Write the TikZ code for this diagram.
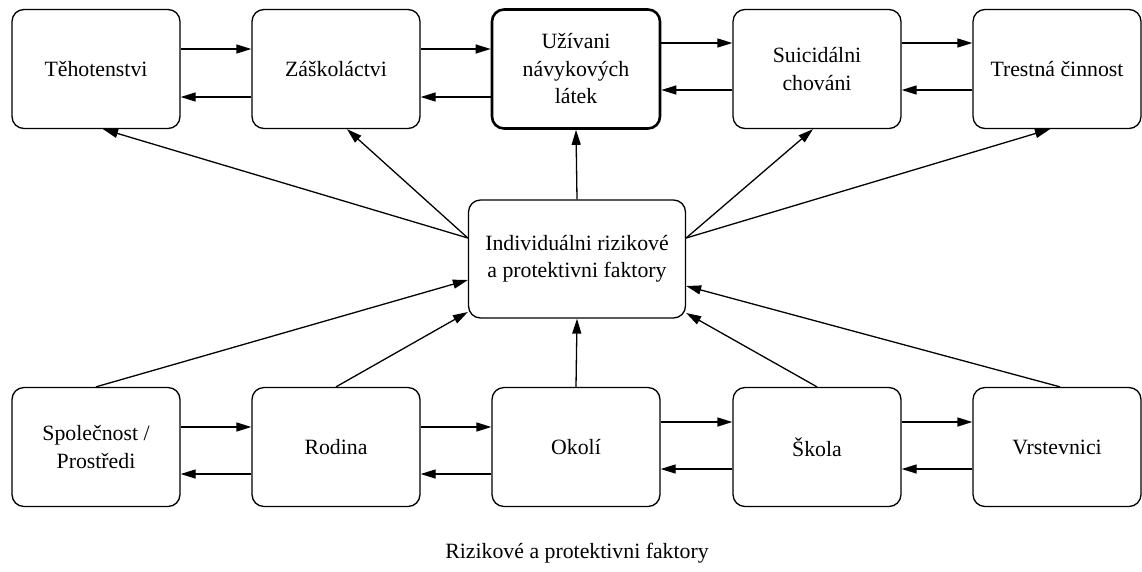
\documentclass[tikz,border=0pt]{standalone}
\usepackage{fontspec}
\setmainfont{Liberation Serif}
\usetikzlibrary{arrows.meta}
\tikzset{>={Triangle[length=15pt,width=9pt]}}
\tikzset{
  factor/.style = {
    draw, line width=1.3pt, rounded corners=12pt,
    minimum width=168pt, minimum height=119pt,
    align=center, inner sep=2pt,
    font=\fontsize{21.8}{27.5}\selectfont
  }
}

\begin{document}
\begin{tikzpicture}[x=1pt,y=-1pt,line width=1.3pt]
  \useasboundingbox (0,0) rectangle (1142,571);
  % top row
  \node (teh) at (96,69)   [factor] {Těhotenstvi};
  \node (zas) at (336,69)  [factor] {Záškoláctvi};
  \node (uzi) at (576,69)  [factor, line width=2.6pt] {Užívani\\návykových\\látek};
  \node (sui) at (817,69)  [factor] {Suicidálni\\chováni};
  \node (tre) at (1057,69) [factor] {Trestná činnost};
  % middle
  \node (ind) at (577,259) [factor, minimum width=217pt, minimum height=118pt] {Individuálni rizikové\\a protektivni faktory};
  % bottom row
  \node (spo) at (96,447)  [factor] {Společnost /\\Prostředi};
  \node (rod) at (336,447) [factor] {Rodina};
  \node (oko) at (576,447) [factor] {Okolí};
  \node (sko) at (817,447) [factor] {Škola};
  \node (vrs) at (1057,447) [factor] {Vrstevnici};
  \node (cap) at (577,553) [font=\fontsize{21.8}{27.5}\selectfont] {Rizikové a protektivni faktory};
  % arrows between neighbours
  \foreach \a/\b/\u/\d in {teh/zas/20/28, zas/uzi/20/28, uzi/sui/26/21, sui/tre/26/21,
                           spo/rod/20/27, rod/oko/20/27, oko/sko/25/22, sko/vrs/25/22} {%
    \draw[->] ([yshift=\u pt]\a.east) -- ([yshift=\u pt]\b.west);
    \draw[->] ([yshift=-\d pt]\b.west) -- ([yshift=-\d pt]\a.east);
  }
  % to the outcomes
  \draw[->] ([yshift=21pt]ind.west) -- ([xshift=7pt]teh.south);
  \draw[->] ([yshift=21pt]ind.west) -- ([xshift=11pt]zas.south);
  \draw[->] (ind.north) -- (uzi.south);
  \draw[->] ([yshift=21pt]ind.east) -- ([xshift=-4pt]sui.south);
  \draw[->] ([yshift=21pt]ind.east) -- ([xshift=-7pt]tre.south);
  % from the environment
  \draw[->] (spo.north) -- ([yshift=-21pt]ind.west);
  \draw[->] (rod.north) -- ([yshift=-53pt]ind.west);
  \draw[->] (oko.north) -- (ind.south);
  \draw[->] (sko.north) -- ([yshift=-54pt]ind.east);
  \draw[->] ([xshift=3pt]vrs.north) -- ([yshift=-27pt]ind.east);
\end{tikzpicture}
\end{document}
